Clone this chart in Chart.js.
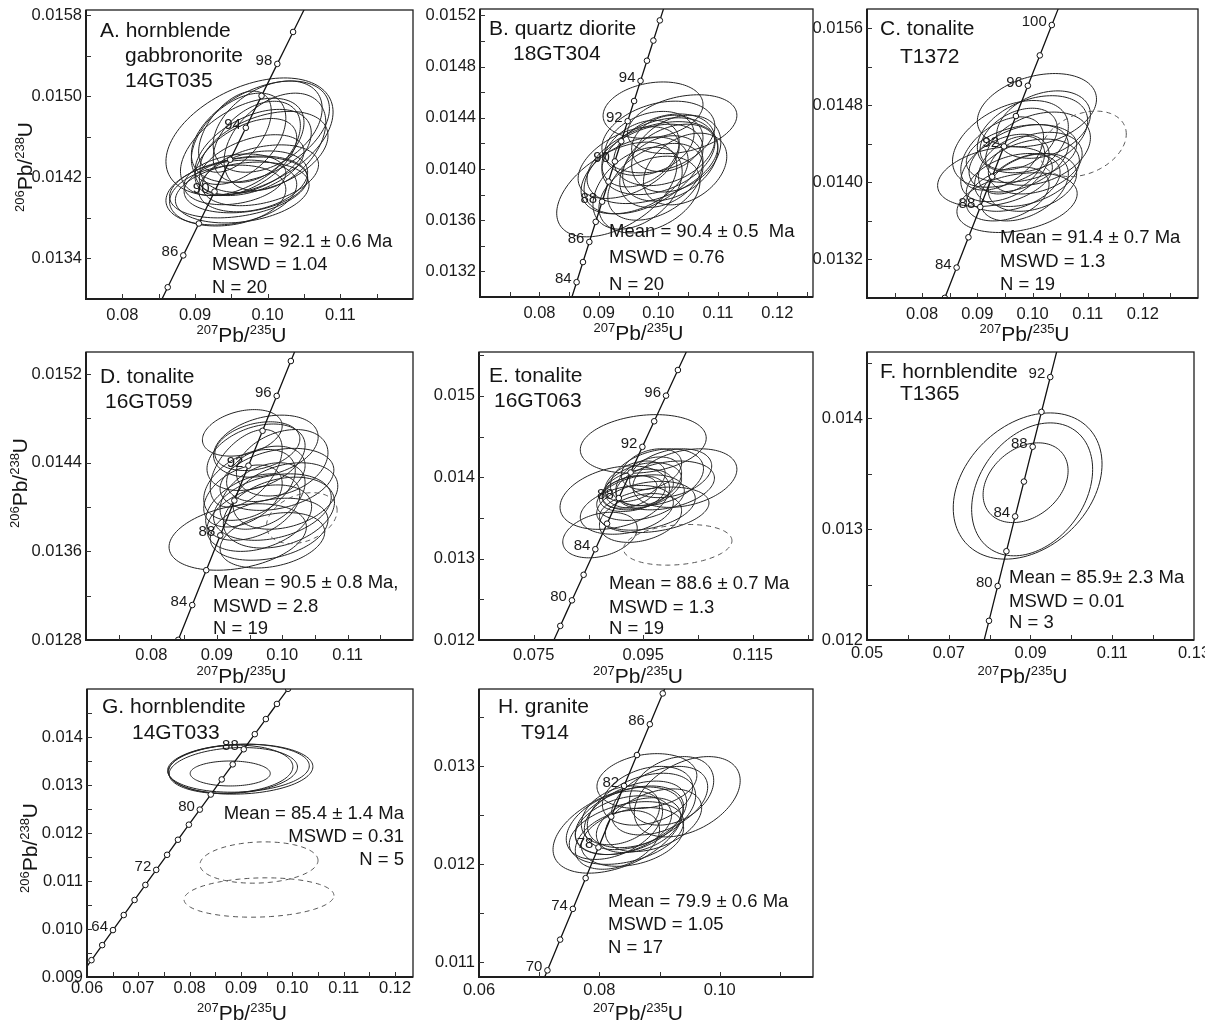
<!DOCTYPE html>
<html><head><meta charset="utf-8">
<script src="https://cdn.jsdelivr.net/npm/chart.js@4.4.1/dist/chart.umd.min.js"></script>
<style>
html,body{margin:0;padding:0;background:#fff;}
#wrap{position:relative;width:1205px;height:1026px;overflow:hidden;background:#fff;}
canvas{position:absolute;}
</style>
</head><body><div id="wrap"></div>
<script>
// ---------- Concordia reference points (age in Ma, 207Pb/235U, 206Pb/238U) ----------
const concordiaAge = [56,57,58,59,60,61,62,63,64,65,66,67,68,69,70,71,72,73,74,75,76,77,78,79,80,81,82,83,84,85,86,87,88,89,90,91,92,93,94,95,96,97,98,99,100,101,102,103,104];
const concordiaX = [0.0567009,0.0577421,0.0587842,0.0598275,0.0608718,0.0619171,0.0629634,0.0640108,0.0650592,0.0661087,0.0671591,0.0682107,0.0692632,0.0703168,0.0713713,0.0724270,0.0734838,0.0745415,0.0756003,0.0766601,0.0777210,0.0787829,0.0798459,0.0809099,0.0819749,0.0830410,0.0841082,0.0851764,0.0862457,0.0873160,0.0883873,0.0894598,0.0905333,0.0916078,0.0926834,0.0937600,0.0948377,0.0959165,0.0969964,0.0980773,0.0991592,0.1002422,0.1013263,0.1024116,0.1034979,0.1045852,0.1056736,0.1067631,0.1078536];
const concordiaY = [0.00872484,0.00888135,0.00903785,0.00919440,0.00935095,0.00950755,0.00966415,0.00982080,0.00997744,0.01013414,0.01029084,0.01044759,0.01060434,0.01076113,0.01091792,0.01107476,0.01123160,0.01138850,0.01154539,0.01170233,0.01185927,0.01201626,0.01217325,0.01233029,0.01248732,0.01264441,0.01280149,0.01295863,0.01311577,0.01327296,0.01343014,0.01358737,0.01374460,0.01390189,0.01405917,0.01421650,0.01437382,0.01453120,0.01468858,0.01484601,0.01500344,0.01516092,0.01531839,0.01547592,0.01563344,0.01579102,0.01594859,0.01610622,0.01626384];

// ---------- Error ellipses: [x centre, y centre, x half-extent, y half-extent, rho] ----------
const ellA = [
[0.0975,0.01460,0.0115,0.00058,0.42],[0.0990,0.01465,0.0095,0.00050,0.45],[0.0965,0.01450,0.0085,0.00048,0.5],
[0.0980,0.01445,0.0080,0.00042,0.45],[0.1000,0.01470,0.0075,0.00045,0.4],[0.0970,0.01440,0.0070,0.00038,0.5],
[0.0985,0.01455,0.0060,0.00040,0.4],[0.0960,0.01458,0.0065,0.00045,0.45],[0.0995,0.01445,0.0088,0.00040,0.4],
[0.0978,0.01432,0.0072,0.00030,0.45],[0.0955,0.01465,0.0050,0.00040,0.5],[0.1010,0.01455,0.0070,0.00048,0.4],
[0.0960,0.01410,0.0095,0.00030,0.3],[0.0950,0.01405,0.0090,0.00032,0.25],[0.0970,0.01413,0.0085,0.00028,0.25],
[0.0945,0.01402,0.0080,0.00030,0.2],[0.0980,0.01416,0.0075,0.00030,0.3],[0.0955,0.01418,0.0070,0.00025,0.25],
[0.0965,0.01405,0.0092,0.00030,0.25],[0.0990,0.01422,0.0080,0.00030,0.35]];
const ellB = [
[0.0991,0.01446,0.0084,0.00022,0.2],[0.1040,0.01435,0.0092,0.00023,0.3],[0.0930,0.01384,0.0101,0.00037,0.5],
[0.0990,0.01405,0.0110,0.00032,0.4],[0.1000,0.01410,0.0095,0.00030,0.35],[0.0975,0.01400,0.0100,0.00035,0.45],
[0.1010,0.01415,0.0085,0.00028,0.3],[0.0960,0.01395,0.0090,0.00030,0.4],[0.1020,0.01405,0.0080,0.00030,0.35],
[0.0985,0.01420,0.0075,0.00025,0.3],[0.1005,0.01398,0.0070,0.00028,0.3],[0.0970,0.01412,0.0065,0.00026,0.35],
[0.1015,0.01420,0.0060,0.00022,0.2],[0.0995,0.01390,0.0080,0.00030,0.4],[0.0950,0.01405,0.0085,0.00028,0.45],
[0.1030,0.01412,0.0075,0.00030,0.3],[0.0985,0.01380,0.0085,0.00030,0.35],[0.1000,0.01425,0.0095,0.00028,0.3],
[0.0965,0.01385,0.0075,0.00032,0.4],[0.1045,0.01400,0.0070,0.00028,0.35]];
const ellC = [
[0.1008,0.01475,0.0108,0.00038,0.3],[0.0932,0.01406,0.0104,0.00031,0.3],[0.0972,0.01379,0.0109,0.00031,0.3],
[0.0960,0.01440,0.0105,0.00045,0.4],[0.1000,0.01450,0.0100,0.00040,0.35],[0.0975,0.01425,0.0090,0.00035,0.4],
[0.0990,0.01410,0.0095,0.00035,0.35],[0.0950,0.01415,0.0080,0.00035,0.4],[0.1005,0.01420,0.0085,0.00032,0.3],
[0.0965,0.01400,0.0085,0.00030,0.35],[0.0985,0.01395,0.0080,0.00035,0.4],[0.1010,0.01435,0.0095,0.00038,0.3],
[0.0945,0.01430,0.0075,0.00038,0.45],[0.0975,0.01445,0.0070,0.00032,0.35],[0.1000,0.01400,0.0080,0.00030,0.3],
[0.0955,0.01388,0.0075,0.00028,0.35],[0.0980,0.01430,0.0100,0.00030,0.3],[0.1020,0.01460,0.0085,0.00035,0.3],
[0.0962,0.01418,0.0060,0.00030,0.4]];
const dashC = [[0.1092,0.01440,0.0078,0.00034,0.3]];
const ellD = [
[0.0939,0.01467,0.0061,0.00021,0.3],[0.0932,0.01373,0.0105,0.00030,0.3],[0.0992,0.01425,0.0087,0.00028,0.3],
[0.0960,0.01445,0.0075,0.00030,0.35],[0.0975,0.01455,0.0080,0.00028,0.3],[0.0950,0.01420,0.0070,0.00032,0.4],
[0.0985,0.01400,0.0090,0.00030,0.3],[0.0965,0.01390,0.0080,0.00030,0.35],[0.0945,0.01435,0.0055,0.00035,0.5],
[0.0995,0.01395,0.0085,0.00032,0.3],[0.0970,0.01410,0.0065,0.00030,0.4],[0.1000,0.01440,0.0070,0.00030,0.3],
[0.0955,0.01400,0.0072,0.00030,0.4],[0.0980,0.01380,0.0090,0.00028,0.3],[0.0940,0.01410,0.0060,0.00028,0.4],
[0.0975,0.01430,0.0060,0.00025,0.3],[0.1005,0.01410,0.0080,0.00030,0.3],[0.0962,0.01455,0.0065,0.00022,0.3],
[0.0985,0.01370,0.0080,0.00025,0.3]];
const dashD = [[0.1030,0.01390,0.0054,0.00023,0.3]];
const ellE = [
[0.0950,0.01441,0.0115,0.00036,0.2],[0.1026,0.01399,0.0095,0.00036,0.3],[0.0898,0.01375,0.0100,0.00039,0.3],
[0.0871,0.01329,0.0068,0.00028,0.3],[0.0940,0.01385,0.0065,0.00025,0.3],[0.0930,0.01380,0.0060,0.00022,0.3],
[0.0950,0.01390,0.0070,0.00028,0.3],[0.0925,0.01382,0.0050,0.00020,0.35],[0.0960,0.01395,0.0060,0.00030,0.35],
[0.0945,0.01375,0.0080,0.00028,0.3],[0.0975,0.01400,0.0085,0.00035,0.3],[0.0955,0.01365,0.0090,0.00030,0.3],
[0.0935,0.01395,0.0055,0.00025,0.4],[0.0990,0.01390,0.0090,0.00030,0.3],[0.0920,0.01360,0.0085,0.00030,0.3],
[0.0965,0.01410,0.0055,0.00025,0.3],[0.0970,0.01360,0.0100,0.00028,0.3],[0.0945,0.01350,0.0075,0.00030,0.3],
[0.1000,0.01405,0.0075,0.00030,0.3]];
const dashE = [[0.1013,0.01317,0.0099,0.00025,0.2]];
const ellF = [[0.0893,0.01339,0.0182,0.00066,0.3],[0.0904,0.01336,0.0148,0.00060,0.3],[0.0888,0.01342,0.0104,0.00036,0.3]];
const ellG = [
[0.0899,0.01333,0.0141,0.00052,0.1],[0.0895,0.01335,0.0138,0.00050,0.1],[0.0880,0.01333,0.0121,0.00050,0.1],
[0.0885,0.01330,0.0125,0.00048,0.15],[0.0879,0.01324,0.0078,0.00026,0.0]];
const dashG = [[0.0935,0.011385,0.0115,0.00043,0.1],[0.0935,0.010656,0.0146,0.00041,0.1]];
const ellH = [
[0.0946,0.01269,0.0088,0.00041,0.4],[0.0879,0.01285,0.0083,0.00028,0.2],[0.0831,0.01235,0.0108,0.00044,0.45],
[0.0850,0.01245,0.0090,0.00035,0.4],[0.0840,0.01240,0.0080,0.00030,0.35],[0.0860,0.01250,0.0085,0.00035,0.4],
[0.0830,0.01225,0.0070,0.00030,0.35],[0.0870,0.01255,0.0090,0.00038,0.4],[0.0845,0.01232,0.0095,0.00032,0.35],
[0.0900,0.01265,0.0080,0.00035,0.4],[0.0835,0.01250,0.0065,0.00030,0.3],[0.0855,0.01228,0.0085,0.00030,0.3],
[0.0920,0.01275,0.0070,0.00035,0.3],[0.0865,0.01240,0.0070,0.00028,0.35],[0.0890,0.01245,0.0080,0.00032,0.4],
[0.0825,0.01240,0.0080,0.00035,0.4],[0.0880,0.01270,0.0075,0.00030,0.3]];

// ---------- Concordia age labels ----------
const ageLabA = [86,90,94,98];
const ageLabB = [84,86,88,90,92,94];
const ageLabC = [84,88,92,96,100];
const ageLabD = [84,88,92,96];
const ageLabE = [80,84,88,92,96];
const ageLabF = [80,84,88,92];
const ageLabG = [64,72,80,88];
const ageLabH = [70,74,78,82,86];

// ---------- Tick labels ----------
const xLabA = ['0.08','0.09','0.10','0.11'];            const yLabA = ['0.0134','0.0142','0.0150','0.0158'];
const xLabB = ['0.08','0.09','0.10','0.11','0.12'];     const yLabB = ['0.0132','0.0136','0.0140','0.0144','0.0148','0.0152'];
const xLabC = ['0.08','0.09','0.10','0.11','0.12'];     const yLabC = ['0.0132','0.0140','0.0148','0.0156'];
const xLabD = ['0.08','0.09','0.10','0.11'];            const yLabD = ['0.0128','0.0136','0.0144','0.0152'];
const xLabE = ['0.075','0.095','0.115'];                const yLabE = ['0.012','0.013','0.014','0.015'];
const xLabF = ['0.05','0.07','0.09','0.11','0.13'];     const yLabF = ['0.012','0.013','0.014'];
const xLabG = ['0.06','0.07','0.08','0.09','0.10','0.11','0.12']; const yLabG = ['0.009','0.010','0.011','0.012','0.013','0.014'];
const xLabH = ['0.06','0.08','0.10'];                   const yLabH = ['0.011','0.012','0.013'];

// ---------- Texts ----------
const titleA = ['A. hornblende','gabbronorite','14GT035'];
const titleB = ['B. quartz diorite','18GT304'];
const titleC = ['C. tonalite','T1372'];
const titleD = ['D. tonalite','16GT059'];
const titleE = ['E. tonalite','16GT063'];
const titleF = ['F. hornblendite','T1365'];
const titleG = ['G. hornblendite','14GT033'];
const titleH = ['H. granite','T914'];
const statsA = ['Mean = 92.1 ± 0.6 Ma','MSWD = 1.04','N = 20'];
const statsB = ['Mean = 90.4 ± 0.5  Ma','MSWD = 0.76','N = 20'];
const statsC = ['Mean = 91.4 ± 0.7 Ma','MSWD = 1.3','N = 19'];
const statsD = ['Mean = 90.5 ± 0.8 Ma,','MSWD = 2.8','N = 19'];
const statsE = ['Mean = 88.6 ± 0.7 Ma','MSWD = 1.3','N = 19'];
const statsF = ['Mean = 85.9± 2.3 Ma','MSWD = 0.01','N = 3'];
const statsG = ['Mean = 85.4 ± 1.4 Ma','MSWD = 0.31','N = 5'];
const statsH = ['Mean = 79.9 ± 0.6 Ma','MSWD = 1.05','N = 17'];
const xAxisTitle = [['207',1],['Pb',0],['/',0],['235',1],['U',0]];
const yAxisTitle = [['206',1],['Pb',0],['/',0],['238',1],['U',0]];

// ---------- Layout (positions / styles only) ----------
const FONT = '"Liberation Sans", Arial, Helvetica, sans-serif';
Chart.defaults.font.family = FONT;
const panels = [
 {box:[86,10,413,299],  xr:[0.075,0.12],  yr:[0.0130,0.01585], xm:[0.075,0.005], ym:[0.0134,0.0004], step:2,
  ell:ellA, dash:[], ages:ageLabA, xl:xLabA, yl:yLabA, title:titleA, tpos:[[100,37],[125,62],[125,87]],
  stats:statsA, spos:[212,[247,270,293]], salign:'left', ytitle:[32,167], xpad:7},
 {box:[480,9,813,297],  xr:[0.07,0.126],  yr:[0.0130,0.01525], xm:[0.075,0.005], ym:[0.0130,0.0002], step:1,
  ell:ellB, dash:[], ages:ageLabB, xl:xLabB, yl:yLabB, title:titleB, tpos:[[489,35],[513,60]],
  stats:statsB, spos:[609,[237,263,290]], salign:'left', ytitle:null, xpad:7},
 {box:[867,9,1198,298], xr:[0.07,0.13],   yr:[0.0128,0.0158],  xm:[0.075,0.005], ym:[0.0132,0.0004], step:2,
  ell:ellC, dash:dashC, ages:ageLabC, xl:xLabC, yl:yLabC, title:titleC, tpos:[[880,35],[900,63]],
  stats:statsC, spos:[1000,[243,267,290]], salign:'left', ytitle:null, xpad:7},
 {box:[86,352,413,640], xr:[0.07,0.12],   yr:[0.0128,0.0154],  xm:[0.075,0.005], ym:[0.0132,0.0004], step:2,
  ell:ellD, dash:dashD, ages:ageLabD, xl:xLabD, yl:yLabD, title:titleD, tpos:[[100,383],[105,408]],
  stats:statsD, spos:[213,[588,612,634]], salign:'left', ytitle:[27,483], xpad:6},
 {box:[479,352,813,640],xr:[0.065,0.126], yr:[0.012,0.01554],  xm:[0.065,0.01],  ym:[0.0125,0.0005], step:2,
  ell:ellE, dash:dashE, ages:ageLabE, xl:xLabE, yl:yLabE, title:titleE, tpos:[[489,382],[494,407]],
  stats:statsE, spos:[609,[589,613,634]], salign:'left', ytitle:null, xpad:6},
 {box:[867,352,1194,640],xr:[0.05,0.13],  yr:[0.012,0.0146],   xm:[0.06,0.01],   ym:[0.0125,0.0005], step:2,
  ell:ellF, dash:[], ages:ageLabF, xl:xLabF, yl:yLabF, title:titleF, tpos:[[880,378],[900,400]],
  stats:statsF, spos:[1009,[583,607,628]], salign:'left', ytitle:null, xpad:4},
 {box:[87,689,413,977], xr:[0.06,0.1235], yr:[0.009,0.015],    xm:[0.065,0.005], ym:[0.0095,0.0005], step:2,
  ell:ellG, dash:dashG, ages:ageLabG, xl:xLabG, yl:yLabG, title:titleG, tpos:[[102,713],[132,739]],
  stats:statsG, spos:[404,[819,842,865]], salign:'right', ytitle:[37,848], xpad:2},
 {box:[479,689,813,977],xr:[0.06,0.1155], yr:[0.01085,0.01379],xm:[0.07,0.01],   ym:[0.011,0.0005],  step:2,
  ell:ellH, dash:[], ages:ageLabH, xl:xLabH, yl:yLabH, title:titleH, tpos:[[498,713],[521,739]],
  stats:statsH, spos:[608,[907,930,953]], salign:'left', ytitle:null, xpad:4}
];

const YW = 80, XH = 56, PT = 14, PR = 22;
const registry = new Map();

function marks(start, step, max) {
  const out = [];
  for (let k = 0; k < 200; k++) {
    const v = +(start + k * step).toFixed(7);
    if (v > max + 1e-9) break;
    out.push(v);
  }
  return out;
}
function drawIso(ctx, cx, baseY, parts) {
  const big = '21px ' + FONT, small = '13px ' + FONT;
  let w = 0;
  parts.forEach(([t, s]) => { ctx.font = s ? small : big; w += ctx.measureText(t).width; });
  let x = cx - w / 2;
  ctx.textAlign = 'left'; ctx.textBaseline = 'alphabetic';
  parts.forEach(([t, s]) => {
    ctx.font = s ? small : big;
    ctx.fillText(t, x, s ? baseY - 8 : baseY);
    x += ctx.measureText(t).width;
  });
}

const deco = {
  id: 'deco',
  beforeDatasetsDraw(chart) {
    const P = registry.get(chart.canvas); if (!P) return;
    const ctx = chart.ctx, a = chart.chartArea, xs = chart.scales.x, ys = chart.scales.y;
    ctx.save();
    ctx.beginPath(); ctx.rect(a.left, a.top, a.right - a.left, a.bottom - a.top); ctx.clip();
    const draw = (list, dashed) => {
      ctx.setLineDash(dashed ? [5, 4] : []);
      ctx.strokeStyle = dashed ? '#555' : '#222';
      ctx.lineWidth = 1;
      for (const [cx, cy, hx, hy, r] of list) {
        const s = Math.sqrt(1 - r * r);
        ctx.beginPath();
        for (let i = 0; i <= 120; i++) {
          const t = i / 120 * 2 * Math.PI;
          const px = xs.getPixelForValue(cx + hx * Math.cos(t));
          const py = ys.getPixelForValue(cy + hy * (r * Math.cos(t) + s * Math.sin(t)));
          if (i) ctx.lineTo(px, py); else ctx.moveTo(px, py);
        }
        ctx.closePath(); ctx.stroke();
      }
    };
    draw(P.ell, false); draw(P.dash, true);
    ctx.restore();
  },
  afterDatasetsDraw(chart) {
    const P = registry.get(chart.canvas); if (!P) return;
    const ctx = chart.ctx, xs = chart.scales.x, ys = chart.scales.y;
    ctx.save();
    ctx.fillStyle = '#1a1a1a'; ctx.font = '15px ' + FONT;
    ctx.textAlign = 'right'; ctx.textBaseline = 'alphabetic';
    for (const age of P.ages) {
      const i = concordiaAge.indexOf(age);
      const px = xs.getPixelForValue(concordiaX[i]), py = ys.getPixelForValue(concordiaY[i]);
      ctx.fillText(String(age), px - 5, py + 1);
    }
    ctx.restore();
  },
  afterDraw(chart) {
    const P = registry.get(chart.canvas); if (!P) return;
    const ctx = chart.ctx, a = chart.chartArea, xs = chart.scales.x, ys = chart.scales.y;
    ctx.save();
    ctx.strokeStyle = '#1e1e1e';
    ctx.lineWidth = 1.3;
    ctx.strokeRect(a.left, a.top, a.right - a.left, a.bottom - a.top);
    ctx.lineWidth = 2;
    ctx.beginPath(); ctx.moveTo(a.left, a.top); ctx.lineTo(a.left, a.bottom); ctx.lineTo(a.right, a.bottom); ctx.stroke();
    ctx.lineWidth = 1; ctx.strokeStyle = '#333';
    ctx.beginPath();
    for (const v of marks(P.xm[0], P.xm[1], P.xr[1])) {
      const px = Math.round(xs.getPixelForValue(v)) + 0.5;
      if (px <= a.left + 1 || px >= a.right - 1) continue;
      ctx.moveTo(px, a.bottom); ctx.lineTo(px, a.bottom - 5);
    }
    for (const v of marks(P.ym[0], P.ym[1], P.yr[1])) {
      const py = Math.round(ys.getPixelForValue(v)) + 0.5;
      if (py <= a.top + 1 || py >= a.bottom - 1) continue;
      ctx.moveTo(a.left, py); ctx.lineTo(a.left + 5, py);
    }
    ctx.stroke();
    // page-coordinate texts
    ctx.translate(-P.ox, -P.oy);
    ctx.fillStyle = '#151515';
    ctx.font = '21px ' + FONT; ctx.textAlign = 'left'; ctx.textBaseline = 'alphabetic';
    P.title.forEach((t, i) => ctx.fillText(t, P.tpos[i][0], P.tpos[i][1]));
    ctx.font = '18.5px ' + FONT; ctx.textAlign = P.salign;
    P.stats.forEach((t, i) => ctx.fillText(t, P.spos[0], P.spos[1][i]));
    const [L, T, R, B] = P.box;
    drawIso(ctx, (L + R) / 2 - 8, B + 43, xAxisTitle);
    if (P.ytitle) {
      ctx.save();
      ctx.translate(P.ytitle[0], P.ytitle[1]);
      ctx.rotate(-Math.PI / 2);
      drawIso(ctx, 0, 0, yAxisTitle);
      ctx.restore();
    }
    ctx.restore();
  }
};

const wrap = document.getElementById('wrap');
panels.forEach((P) => {
  const [L, T, R, B] = P.box;
  const W = (R - L) + YW + PR, H = (B - T) + PT + XH;
  P.ox = L - YW; P.oy = T - PT;
  const cv = document.createElement('canvas');
  cv.width = W; cv.height = H;
  cv.style.left = P.ox + 'px'; cv.style.top = P.oy + 'px';
  cv.style.width = W + 'px'; cv.style.height = H + 'px';
  wrap.appendChild(cv);
  registry.set(cv, P);
  const xv = P.xl.map(Number), yv = P.yl.map(Number);
  const lab = (vals, strs) => (v) => { const i = vals.findIndex(q => Math.abs(q - v) < 1e-9); return i >= 0 ? strs[i] : ''; };
  const linePts = concordiaAge.map((g, i) => ({x: concordiaX[i], y: concordiaY[i]}));
  const markPts = concordiaAge.map((g, i) => ({g, x: concordiaX[i], y: concordiaY[i]})).filter(p => p.g % P.step === 0);
  new Chart(cv, {
    type: 'scatter',
    data: { datasets: [
      { type: 'scatter', data: markPts, pointRadius: 2.8, pointBackgroundColor: '#fff', pointBorderColor: '#111',
        pointBorderWidth: 1, pointHoverRadius: 2.8, clip: 0 },
      { type: 'line', data: linePts, borderColor: '#111', borderWidth: 1.3, pointRadius: 0, tension: 0, fill: false, clip: 0 }
    ]},
    options: {
      responsive: false, animation: false, devicePixelRatio: 1,
      layout: { padding: { left: 0, top: PT, right: PR, bottom: 0 } },
      plugins: { legend: { display: false }, tooltip: { enabled: false } },
      events: [],
      scales: {
        x: { type: 'linear', position: 'bottom', min: P.xr[0], max: P.xr[1],
             afterBuildTicks: s => { s.ticks = xv.map(v => ({value: v})); },
             afterFit: s => { s.height = XH; },
             grid: { display: false, drawTicks: false }, border: { display: false },
             ticks: { autoSkip: false, maxRotation: 0, minRotation: 0, padding: P.xpad, color: '#1a1a1a',
                      font: { size: 16.5 }, callback: lab(xv, P.xl) } },
        y: { type: 'linear', position: 'left', min: P.yr[0], max: P.yr[1],
             afterBuildTicks: s => { s.ticks = yv.map(v => ({value: v})); },
             afterFit: s => { s.width = YW; },
             grid: { display: false, drawTicks: false }, border: { display: false },
             ticks: { autoSkip: false, padding: 4, color: '#1a1a1a', font: { size: 16.5 }, callback: lab(yv, P.yl) } }
      }
    },
    plugins: [deco]
  });
});
</script>
</body></html>
